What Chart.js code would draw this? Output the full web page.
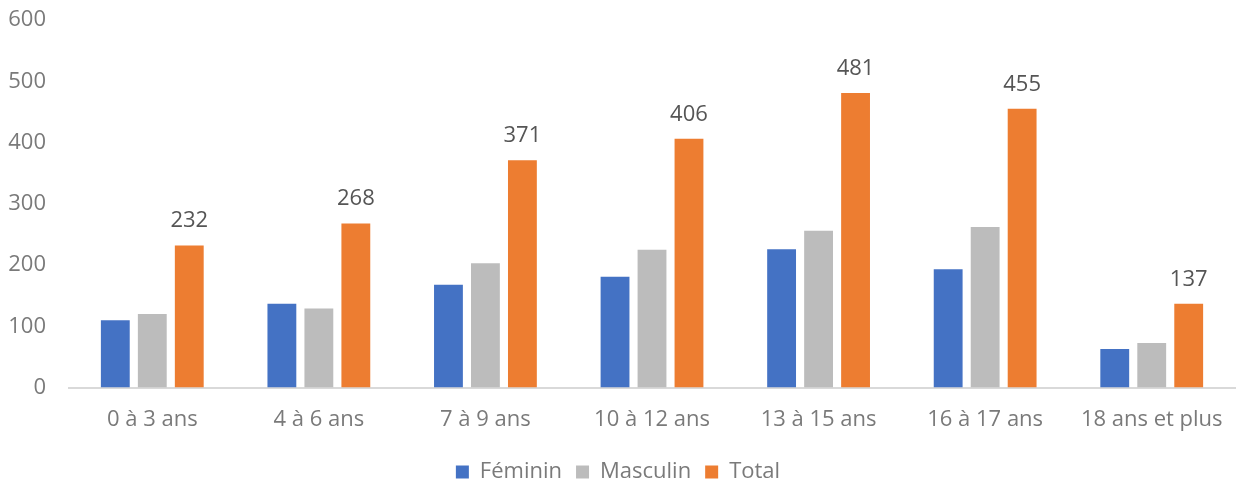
<!DOCTYPE html>
<html>
<head>
<meta charset="utf-8">
<script src="https://cdn.jsdelivr.net/npm/chart.js@4/dist/chart.umd.min.js"></script>
<style>
  html, body { margin: 0; padding: 0; background: #fff; }
  #wrap { width: 1242px; height: 485px; position: relative; }
</style>
</head>
<body>
<div id="wrap"><canvas id="c"></canvas></div>
<script>
const categories = ["0 à 3 ans", "4 à 6 ans", "7 à 9 ans", "10 à 12 ans", "13 à 15 ans", "16 à 17 ans", "18 ans et plus"];
const feminin = [110, 137, 168, 181, 226, 193, 63];
const masculin = [120, 129, 203, 225, 256, 262, 73];
const total = [232, 268, 371, 406, 481, 455, 137];
const yTicks = [0, 100, 200, 300, 400, 500, 600];

const FONT = "'Open Sans', 'DejaVu Sans', sans-serif";
const FS = 22;

const totalLabels = {
  id: 'totalLabels',
  afterDatasetsDraw(chart) {
    const ctx = chart.ctx;
    const meta = chart.getDatasetMeta(2);
    ctx.save();
    ctx.font = FS + "px " + FONT;
    ctx.fillStyle = "#555555";
    ctx.textAlign = "center";
    ctx.textBaseline = "alphabetic";
    meta.data.forEach((bar, i) => {
      ctx.fillText(String(total[i]), bar.x, bar.y - 18);
    });
    ctx.restore();
  }
};

new Chart(document.getElementById('c'), {
  type: 'bar',
  data: {
    labels: categories,
    datasets: [
      { label: 'Féminin', data: feminin, backgroundColor: '#4472C4' },
      { label: 'Masculin', data: masculin, backgroundColor: '#BCBCBC' },
      { label: 'Total', data: total, backgroundColor: '#ED7D31' }
    ]
  },
  options: {
    responsive: true,
    maintainAspectRatio: false,
    animation: false,
    layout: { padding: { top: 0, right: 6, left: 0, bottom: -8 } },
    datasets: { bar: { categoryPercentage: 0.666, barPercentage: 0.78 } },
    plugins: {
      tooltip: { enabled: false },
      legend: {
        position: 'bottom',
        labels: {
          boxWidth: 13, boxHeight: 13, padding: 14,
          color: '#7A7A7A',
          font: { family: FONT, size: FS }
        }
      }
    },
    scales: {
      x: {
        afterFit(scale) { scale.height -= 5; },
        grid: { display: false, drawTicks: false },
        border: { display: true, color: '#D9D9D9', width: 2 },
        ticks: { color: '#7A7A7A', font: { family: FONT, size: FS }, padding: 19, maxRotation: 0 }
      },
      y: {
        min: 0, max: 600,
        afterBuildTicks(scale) { scale.ticks = yTicks.map(v => ({ value: v })); },
        afterFit(scale) { scale.width = 69; scale.paddingTop = 20; scale.paddingBottom = 0; },
        grid: { display: false, drawTicks: false },
        border: { display: false },
        ticks: { color: '#7A7A7A', font: { family: FONT, size: FS }, padding: 23 }
      }
    }
  },
  plugins: [totalLabels]
});
</script>
</body>
</html>
